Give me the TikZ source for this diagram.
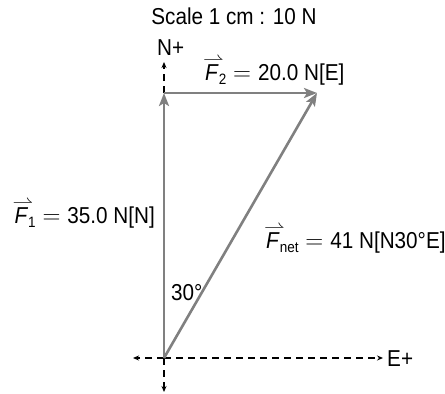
\documentclass[tikz,border=0pt]{standalone}
\usepackage{graphicx}
\usepackage{fontspec}
\setmainfont[FakeStretch=0.9]{Liberation Sans}
\usetikzlibrary{arrows.meta}
\newcommand{\hF}{\makebox[0pt][l]{\kern-2pt\raisebox{16pt}{\scalebox{0.85}[0.75]{$\rightharpoonup$}}}\textit{F}}
\newcommand{\lsub}[1]{\raisebox{-4.5pt}{\fontsize{15}{15}\selectfont #1}}
\definecolor{vecgray}{RGB}{128,128,128}
\tikzset{
  vec/.style={draw=vecgray, line width=2.6pt, -{Stealth[length=13pt,width=10pt,inset=3pt]}},
  axis/.style={draw=black, line width=1.1pt, dash pattern=on 7pt off 5pt, -{Stealth[length=6pt,width=5pt]}},
  lbl/.style={inner sep=0pt, font=\fontsize{23}{27}\selectfont}
}
\begin{document}
\begin{tikzpicture}[x=1pt,y=-1pt]
\useasboundingbox (0,0) rectangle (445,394);
\coordinate (O) at (164,358);
\coordinate (A) at (164,93);
\coordinate (B) at (317,93);
\coordinate (Nt) at (164,62);
\coordinate (St) at (164,392);
\coordinate (Wt) at (133,358);
\coordinate (Et) at (383,358);
% axes
\draw[axis] (A) -- (Nt);
\draw[axis] (O) -- (St);
\draw[axis] (O) -- (Wt);
\draw[axis] (O) -- (Et);
% vectors
\draw[vec] (O) -- (A);
\draw[vec] (A) -- (B);
\draw[vec] (O) -- (B);
% labels
\node[lbl, anchor=base] (scale) at (234,24) {Scale 1 cm : 10 N};
\node[lbl, anchor=base west] (nlab) at (157,55) {N+};
\node[lbl, anchor=base west] (elab) at (387,366) {E+};
\node[lbl, anchor=base west] (f2) at (205,80) {\hF\lsub{2}${}={}$20.0 N[E]};
\node[lbl, anchor=base east] (f1) at (155,223) {\hF\lsub{1}${}={}$35.0 N[N]};
\node[lbl, anchor=base west] (fn) at (266,248) {\hF\lsub{net}${}={}$41 N[N30°E]};
\node[lbl, anchor=base west] (ang) at (171,300) {30°};
\end{tikzpicture}
\end{document}
